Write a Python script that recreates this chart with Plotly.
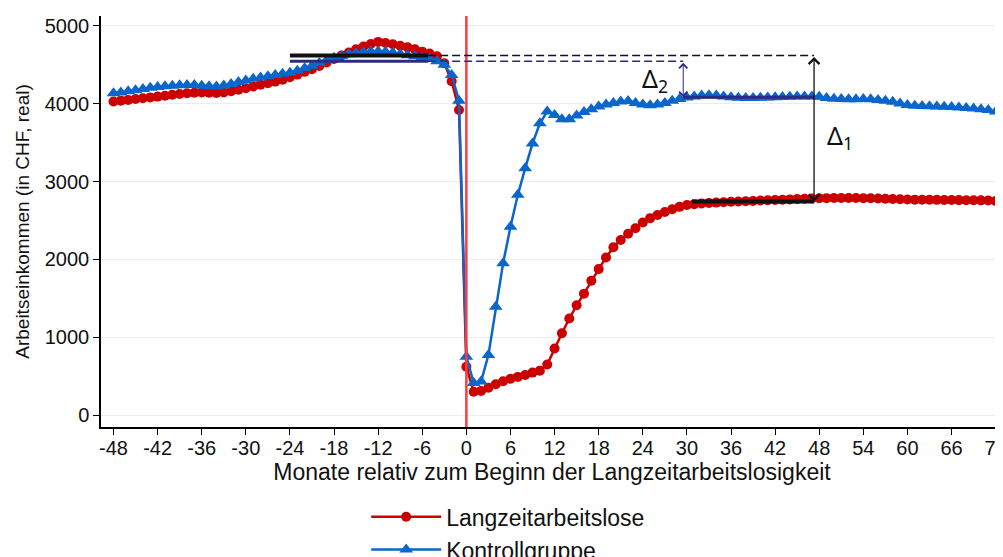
import plotly.graph_objects as go

# ---- data ----
months = list(range(-48, 73))

langzeit = [
    4030, 4040, 4050, 4062, 4072, 4082, 4092, 4102, 4115, 4125,   # -48..-39
    4135, 4142, 4145, 4142, 4138, 4145, 4160, 4180, 4200, 4222,   # -38..-29
    4245, 4265, 4285, 4310, 4340, 4375, 4410, 4445, 4485, 4530,   # -28..-19
    4575, 4620, 4660, 4700, 4735, 4768, 4795, 4780, 4765, 4745,   # -18..-9
    4725, 4700, 4670, 4645, 4610, 4520, 4290, 3920,               # -8..-1
    620, 300, 310, 350, 395, 435, 465, 490, 515, 545,             # 0..9
    570, 650, 855, 1050, 1240, 1410, 1560, 1725, 1875, 2025,      # 10..19
    2155, 2250, 2330, 2400, 2475, 2530, 2570, 2610, 2645, 2675,   # 20..29
    2700, 2710, 2718, 2724, 2730, 2735, 2740, 2744, 2748, 2752,   # 30..39
    2756, 2760, 2763, 2767, 2771, 2775, 2779, 2782, 2785, 2787,   # 40..49
    2789, 2790, 2790, 2789, 2787, 2785, 2782, 2779, 2776, 2773,   # 50..59
    2770, 2768, 2767, 2766, 2765, 2764, 2763, 2762, 2761, 2760,   # 60..69
    2759, 2757, 2752,                                             # 70..72
]

kontroll = [
    4135, 4145, 4160, 4175, 4190, 4205, 4215, 4225, 4232, 4238,   # -48..-39
    4242, 4240, 4232, 4225, 4222, 4235, 4255, 4280, 4300, 4320,   # -38..-29
    4338, 4355, 4370, 4385, 4400, 4425, 4455, 4490, 4525, 4560,   # -28..-19
    4590, 4615, 4635, 4650, 4662, 4672, 4675, 4668, 4655, 4640,   # -18..-9
    4625, 4610, 4595, 4575, 4545, 4500, 4370, 4040,               # -8..-1
    750, 410, 430, 770, 1390, 1950, 2420, 2830, 3170, 3490,       # 0..9
    3750, 3900, 3855, 3800, 3800, 3850, 3895, 3930, 3965, 3990,   # 10..19
    4010, 4030, 4035, 4010, 3990, 3980, 3990, 4010, 4040, 4060,   # 20..29
    4080, 4095, 4105, 4110, 4105, 4095, 4085, 4078, 4075, 4075,   # 30..39
    4078, 4082, 4085, 4088, 4090, 4092, 4095, 4095, 4090, 4075,   # 40..49
    4065, 4060, 4058, 4058, 4060, 4058, 4050, 4040, 4025, 4005,   # 50..59
    3985, 3975, 3970, 3968, 3965, 3962, 3958, 3952, 3945, 3938,   # 60..69
    3930, 3920, 3900,                                             # 70..72
]

x_ticks = list(range(-48, 73, 6))
y_ticks = [0, 1000, 2000, 3000, 4000, 5000]

# reference levels used for the Δ annotations
pre_level_L = 4620      # pre-period level (black)
pre_level_K = 4545      # pre-period level (navy)
post_level_K = 4085     # post-period level, control (navy)
post_level_L = 2745     # post-period level, long-term unemployed (black)
pre_window = [-24, -5.2]
post_window_K = [29.5, 47.3]
post_window_L = [30.7, 47.3]

RED = "#cc0000"
BLUE = "#0a66cc"
NAVY = "#2b2b85"
BLACK = "#111111"
FONT = "Arial, Liberation Sans, sans-serif"

fig = go.Figure()

fig.add_trace(go.Scatter(
    x=months, y=langzeit, mode="lines+markers", name="Langzeitarbeitslose",
    line=dict(color=RED, width=2.5),
    marker=dict(symbol="circle", size=10, color=RED),
    legendgroup="a",
))
fig.add_trace(go.Scatter(
    x=months, y=kontroll, mode="lines+markers", name="Kontrollgruppe",
    line=dict(color=BLUE, width=2.5),
    marker=dict(symbol="triangle-up", size=12, color=BLUE),
    legendgroup="b",
))

shapes = []
# vertical line at 0
shapes.append(dict(type="line", xref="x", yref="paper", x0=0, x1=0, y0=0, y1=1,
                   line=dict(color="#ff3b3b", width=2.5)))
# pre-period levels (solid)
shapes.append(dict(type="line", xref="x", yref="y", x0=pre_window[0], x1=pre_window[1],
                   y0=pre_level_L, y1=pre_level_L, line=dict(color=BLACK, width=4)))
shapes.append(dict(type="line", xref="x", yref="y", x0=pre_window[0], x1=pre_window[1],
                   y0=pre_level_K, y1=pre_level_K, line=dict(color=NAVY, width=3)))
# dashed extensions
shapes.append(dict(type="line", xref="x", yref="y", x0=pre_window[1], x1=post_window_L[1],
                   y0=pre_level_L, y1=pre_level_L, line=dict(color=BLACK, width=1.5, dash="8px,4px")))
shapes.append(dict(type="line", xref="x", yref="y", x0=pre_window[1], x1=post_window_K[0],
                   y0=pre_level_K, y1=pre_level_K, line=dict(color=NAVY, width=1.5, dash="8px,4px")))
# post-period levels
shapes.append(dict(type="line", xref="x", yref="y", x0=post_window_K[0], x1=post_window_K[1],
                   y0=post_level_K, y1=post_level_K, line=dict(color=NAVY, width=3)))
shapes.append(dict(type="line", xref="x", yref="y", x0=post_window_L[0], x1=post_window_L[1],
                   y0=post_level_L, y1=post_level_L, line=dict(color=BLACK, width=4)))

annotations = [
    # Δ2 arrow
    dict(x=post_window_K[0], y=post_level_K, ax=post_window_K[0], ay=pre_level_K,
         xref="x", yref="y", axref="x", ayref="y", text="", showarrow=True,
         arrowhead=4, startarrowhead=4, arrowside="end+start", arrowsize=1.6,
         arrowwidth=1, arrowcolor=NAVY),
    # Δ1 arrow
    dict(x=post_window_L[1], y=post_level_L, ax=post_window_L[1], ay=pre_level_L,
         xref="x", yref="y", axref="x", ayref="y", text="", showarrow=True,
         arrowhead=4, startarrowhead=4, arrowside="end+start", arrowsize=1.6,
         arrowwidth=1.3, arrowcolor=BLACK),
    dict(x=25.7, y=4315, xref="x", yref="y", text="Δ<sub>2</sub>", showarrow=False,
         font=dict(family="Noto Sans, DejaVu Sans", size=25, color="#111")),
    dict(x=50.8, y=3585, xref="x", yref="y", text="Δ<sub>1</sub>", showarrow=False,
         font=dict(family="Noto Sans, DejaVu Sans", size=25, color="#111")),
]

fig.update_layout(
    width=1003, height=557,
    margin=dict(l=93, r=8, t=8, b=138, autoexpand=False),
    paper_bgcolor="white", plot_bgcolor="white",
    font=dict(family=FONT, color="#111"),
    shapes=shapes, annotations=annotations,
    legend=dict(orientation="v", x=0.294, xanchor="left", y=-0.166, yanchor="top",
                font=dict(size=23, family=FONT), tracegroupgap=0, itemwidth=70,
                bgcolor="rgba(0,0,0,0)"),
    showlegend=True,
)
fig.update_xaxes(
    range=[-49.7, 73.0], tickmode="array", tickvals=x_ticks,
    ticktext=[str(v) for v in x_ticks],
    showline=True, linecolor="black", linewidth=1.5,
    ticks="outside", ticklen=6, tickcolor="black", tickwidth=1.2,
    tickfont=dict(size=20), showgrid=False, zeroline=False, automargin=False,
    ticklabelstandoff=-4,
    title=dict(text="Monate relativ zum Beginn der Langzeitarbeitslosigkeit",
               font=dict(size=23), standoff=0),
)
fig.update_yaxes(
    range=[-154, 5128], tickmode="array", tickvals=y_ticks,
    showline=True, linecolor="black", linewidth=1.5,
    ticks="outside", ticklen=6, tickcolor="black", tickwidth=1.2,
    tickfont=dict(size=20), showgrid=True, gridcolor="#ececec", gridwidth=1,
    zeroline=False, automargin=False,
    title=dict(text="Arbeitseinkommen (in CHF, real)", font=dict(size=19), standoff=10),
)

fig.write_html("out.html")
